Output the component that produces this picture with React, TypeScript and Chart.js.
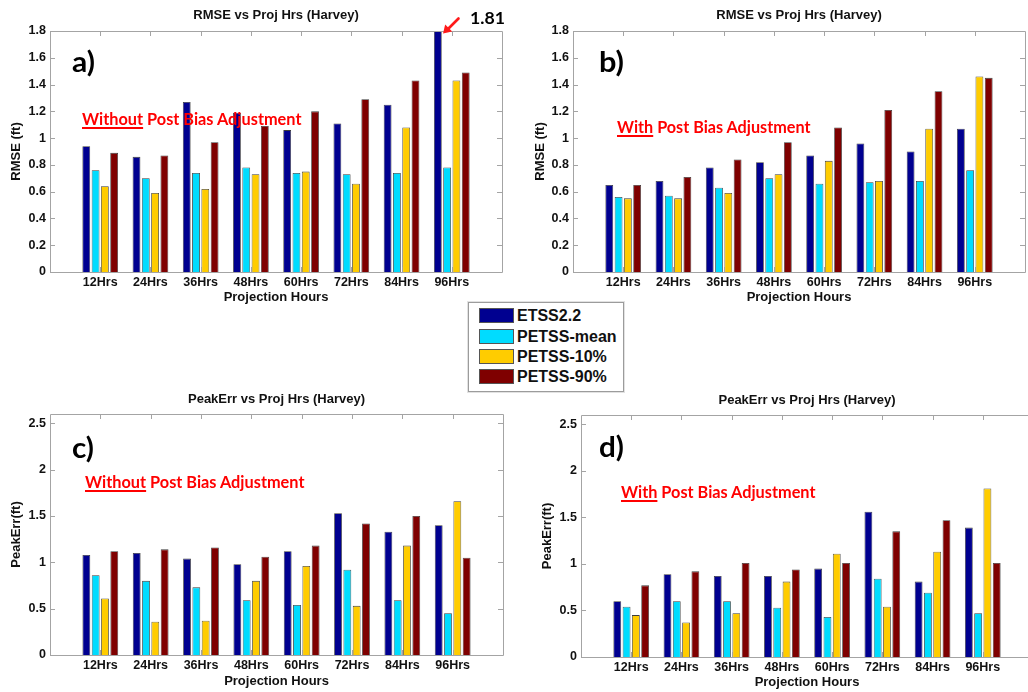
import React, { useEffect, useRef } from 'react';
import { Chart, registerables } from 'chart.js';

Chart.register(...registerables);

// ---------- data ----------
const HOURS = ['12Hrs', '24Hrs', '36Hrs', '48Hrs', '60Hrs', '72Hrs', '84Hrs', '96Hrs'];
const SERIES = ['ETSS2.2', 'PETSS-mean', 'PETSS-10%', 'PETSS-90%'];
const COLORS = ['#000090', '#00dcff', '#ffcc00', '#7f0000'];

// a) RMSE, without post bias adjustment
const rmseNoAdjEtss = [0.94, 0.86, 1.27, 1.19, 1.06, 1.11, 1.25, 1.81];
const rmseNoAdjMean = [0.76, 0.7, 0.74, 0.78, 0.74, 0.73, 0.74, 0.78];
const rmseNoAdjP10 = [0.64, 0.59, 0.62, 0.73, 0.75, 0.66, 1.08, 1.43];
const rmseNoAdjP90 = [0.89, 0.87, 0.97, 1.09, 1.2, 1.29, 1.43, 1.49];

// b) RMSE, with post bias adjustment
const rmseAdjEtss = [0.65, 0.68, 0.78, 0.82, 0.87, 0.96, 0.9, 1.07];
const rmseAdjMean = [0.56, 0.57, 0.63, 0.7, 0.66, 0.67, 0.68, 0.76];
const rmseAdjP10 = [0.55, 0.55, 0.59, 0.73, 0.83, 0.68, 1.07, 1.46];
const rmseAdjP90 = [0.65, 0.71, 0.84, 0.97, 1.08, 1.21, 1.35, 1.45];

// c) PeakErr, without post bias adjustment
const peakNoAdjEtss = [1.08, 1.1, 1.04, 0.98, 1.12, 1.53, 1.33, 1.4];
const peakNoAdjMean = [0.86, 0.8, 0.73, 0.59, 0.54, 0.92, 0.59, 0.45];
const peakNoAdjP10 = [0.61, 0.36, 0.37, 0.8, 0.96, 0.53, 1.18, 1.66];
const peakNoAdjP90 = [1.12, 1.14, 1.16, 1.06, 1.18, 1.42, 1.5, 1.05];

// d) PeakErr, with post bias adjustment
const peakAdjEtss = [0.6, 0.89, 0.87, 0.87, 0.95, 1.56, 0.81, 1.39];
const peakAdjMean = [0.54, 0.6, 0.6, 0.53, 0.43, 0.84, 0.69, 0.47];
const peakAdjP10 = [0.45, 0.37, 0.47, 0.81, 1.11, 0.54, 1.13, 1.81];
const peakAdjP90 = [0.77, 0.92, 1.01, 0.94, 1.01, 1.35, 1.47, 1.01];

const RMSE_MAX = 1.8;
const RMSE_STEP = 0.2;
const PEAK_MAX = 2.6;
const PEAK_STEP = 0.5;

const RMSE_TITLE = 'RMSE vs Proj Hrs (Harvey)';
const PEAK_TITLE = 'PeakErr vs Proj Hrs (Harvey)';
const X_TITLE = 'Projection Hours';

// ---------- layout ----------
const AX_FONT = "'Liberation Sans', Arial, sans-serif";
const NOTE_FONT = "Lato, 'Open Sans', sans-serif";

type PanelCfg = {
  left: number; top: number; width: number; height: number;
  area: { l: number; t: number; r: number; b: number };
  title: string; titleCY: number;
  yTitle: string; yTitleCX: number; yMax: number; yStep: number;
  xTitleCY: number;
  series: number[][];
};

const PANELS: PanelCfg[] = [
  {
    left: 0, top: 0, width: 514, height: 310,
    area: { l: 50, t: 31, r: 502, b: 272 },
    title: RMSE_TITLE, titleCY: 15.7,
    yTitle: 'RMSE (ft)', yTitleCX: 16, yMax: RMSE_MAX, yStep: RMSE_STEP,
    xTitleCY: 297.7,
    series: [rmseNoAdjEtss, rmseNoAdjMean, rmseNoAdjP10, rmseNoAdjP90],
  },
  {
    left: 514, top: 0, width: 514, height: 310,
    area: { l: 59, t: 31, r: 511, b: 272 },
    title: RMSE_TITLE, titleCY: 15.7,
    yTitle: 'RMSE (ft)', yTitleCX: 26.7, yMax: RMSE_MAX, yStep: RMSE_STEP,
    xTitleCY: 297.7,
    series: [rmseAdjEtss, rmseAdjMean, rmseAdjP10, rmseAdjP90],
  },
  {
    left: 0, top: 380, width: 514, height: 312,
    area: { l: 50, t: 34, r: 503, b: 275 },
    title: PEAK_TITLE, titleCY: 19,
    yTitle: 'PeakErr(ft)', yTitleCX: 16, yMax: PEAK_MAX, yStep: PEAK_STEP,
    xTitleCY: 301,
    series: [peakNoAdjEtss, peakNoAdjMean, peakNoAdjP10, peakNoAdjP90],
  },
  {
    left: 514, top: 380, width: 530, height: 312,
    area: { l: 67, t: 35, r: 519, b: 277 },
    title: PEAK_TITLE, titleCY: 20,
    yTitle: 'PeakErr(ft)', yTitleCX: 33.3, yMax: PEAK_MAX, yStep: PEAK_STEP,
    xTitleCY: 302.7,
    series: [peakAdjEtss, peakAdjMean, peakAdjP10, peakAdjP90],
  },
];

const framePlugin = {
  id: 'matlabFrame',
  afterDatasetsDraw(chart: any) {
    const { ctx, chartArea } = chart;
    const { left, right, top, bottom } = chartArea;
    const x = chart.scales.x;
    const y = chart.scales.y;
    const tl = 5;
    ctx.save();
    ctx.strokeStyle = '#a4a4a4';
    ctx.lineWidth = 1;
    ctx.beginPath();
    ctx.rect(Math.round(left) + 0.5, Math.round(top) + 0.5, Math.round(right - left), Math.round(bottom - top));
    const labels = chart.data.labels as string[];
    x.ticks.forEach((_t: any, i: number) => {
      if (!labels[i]) return;
      const px = Math.round(x.getPixelForTick(i)) + 0.5;
      ctx.moveTo(px, bottom);
      ctx.lineTo(px, bottom - tl);
      ctx.moveTo(px, top);
      ctx.lineTo(px, top + tl);
    });
    y.ticks.forEach((_t: any, i: number) => {
      const py = Math.round(y.getPixelForTick(i)) + 0.5;
      ctx.moveTo(left, py);
      ctx.lineTo(left + tl, py);
      ctx.moveTo(right, py);
      ctx.lineTo(right - tl, py);
    });
    ctx.stroke();
    ctx.restore();
  },
};

function BarPanel({ cfg }: { cfg: PanelCfg }) {
  const ref = useRef<HTMLCanvasElement>(null);
  useEffect(() => {
    const c = cfg;
    const titleLH = 13 * 1.2;
    const titlePadTop = c.titleCY - titleLH / 2;
    const titlePadBottom = c.area.t - titlePadTop - titleLH;
    const labels = ['', ...HOURS, ''];
    const chart = new Chart(ref.current as HTMLCanvasElement, {
      type: 'bar',
      data: {
        labels,
        datasets: SERIES.map((name, i) => ({
          label: name,
          data: [null, ...c.series[i], null],
          backgroundColor: COLORS[i],
          borderColor: '#3c3c3c',
          borderWidth: 0.8,
          categoryPercentage: 0.74,
          barPercentage: 0.84,
        })),
      },
      options: {
        responsive: false,
        animation: false,
        devicePixelRatio: 1,
        layout: { padding: { left: 0, right: c.width - c.area.r, top: 0, bottom: 0 } },
        plugins: {
          legend: { display: false },
          tooltip: { enabled: false },
          title: {
            display: true,
            text: c.title,
            fullSize: false,
            color: '#111',
            font: { family: AX_FONT, size: 13, weight: 'bold', lineHeight: 1.2 },
            padding: { top: titlePadTop, bottom: titlePadBottom },
          },
        },
        scales: {
          x: {
            type: 'category',
            offset: false,
            grid: { display: false, drawTicks: false },
            border: { display: false },
            ticks: {
              autoSkip: false,
              maxRotation: 0,
              minRotation: 0,
              padding: 3,
              color: '#111',
              font: { family: AX_FONT, size: 12.5, weight: 'bold', lineHeight: 1.2 },
            },
            title: {
              display: true,
              text: X_TITLE,
              color: '#111',
              font: { family: AX_FONT, size: 13, weight: 'bold', lineHeight: 1.2 },
              padding: { top: 0, bottom: c.height - c.xTitleCY - 7.8 },
            },
            afterFit: (s: any) => { s.height = c.height - c.area.b; },
          },
          y: {
            min: 0,
            max: c.yMax,
            grid: { display: false, drawTicks: false },
            border: { display: false },
            ticks: {
              stepSize: c.yStep,
              includeBounds: false,
              padding: 4,
              color: '#111',
              font: { family: AX_FONT, size: 12.5, weight: 'bold', lineHeight: 1.2 },
              callback: (v: any) => String(Math.round(Number(v) * 10) / 10),
            },
            title: {
              display: true,
              text: c.yTitle,
              color: '#111',
              font: { family: AX_FONT, size: 13, weight: 'bold', lineHeight: 1.2 },
              padding: { top: c.yTitleCX - 7.8, bottom: 0 },
            },
            afterFit: (s: any) => { s.width = c.area.l; },
          },
        },
      } as any,
      plugins: [framePlugin],
    });
    return () => chart.destroy();
  }, [cfg]);
  return (
    <canvas
      ref={ref}
      width={cfg.width}
      height={cfg.height}
      style={{ position: 'absolute', left: cfg.left, top: cfg.top, width: cfg.width, height: cfg.height, display: 'block' }}
    />
  );
}

// ---------- text annotations (fit to measured width) ----------
let measureCtx: CanvasRenderingContext2D | null = null;
function measureWidth(text: string, font: string) {
  if (!measureCtx) measureCtx = document.createElement('canvas').getContext('2d');
  if (!measureCtx) return 1;
  measureCtx.font = font;
  return measureCtx.measureText(text).width || 1;
}

function FitText({ left, baseline, width, size, color, weight = 700, children, text }:
  { left: number; baseline: number; width: number; size: number; color: string; weight?: number; children: React.ReactNode; text: string }) {
  const w = measureWidth(text, `${weight} ${size}px ${NOTE_FONT}`);
  const sx = width / w;
  return (
    <div
      style={{
        position: 'absolute',
        left,
        top: baseline - 0.887 * size,
        fontFamily: NOTE_FONT,
        fontWeight: weight,
        fontSize: size,
        lineHeight: 1,
        color,
        whiteSpace: 'nowrap',
        transform: `scaleX(${sx})`,
        transformOrigin: 'left top',
      }}
    >
      {children}
    </div>
  );
}

function BiasNote({ left, baseline, width, lead }: { left: number; baseline: number; width: number; lead: string }) {
  const rest = ' Post Bias Adjustment';
  return (
    <FitText left={left} baseline={baseline} width={width} size={17} color="#ff0000" text={lead + rest}>
      <span style={{ textDecoration: 'underline', textDecorationThickness: 1.5, textUnderlineOffset: 2 }}>{lead}</span>
      {rest}
    </FitText>
  );
}

function Legend() {
  const rowTop = [308.3, 328.5, 348.7, 369];
  return (
    <div
      style={{
        position: 'absolute', left: 468, top: 302, width: 154, height: 88,
        border: '1px solid #9c9c9c', outline: '1px solid #e2e2e2', background: '#fff',
      }}
    >
      {SERIES.map((name, i) => (
        <div key={name} style={{ position: 'absolute', left: 0, top: rowTop[i] - 303, height: 15, width: 154 }}>
          <div style={{
            position: 'absolute', left: 10, top: 0, width: 33, height: 13,
            background: COLORS[i], border: '1px solid #555',
          }} />
          <div style={{
            position: 'absolute', left: 48, top: -2, height: 19, lineHeight: '19px',
            fontFamily: AX_FONT, fontWeight: 'bold', fontSize: 16, color: '#111', whiteSpace: 'nowrap',
          }}>{name}</div>
        </div>
      ))}
    </div>
  );
}

export default function App() {
  useEffect(() => {
    document.body.style.margin = '0';
  }, []);
  return (
    <div style={{ position: 'absolute', left: 0, top: 0, width: 1028, height: 692, overflow: 'hidden', background: '#fff' }}>
      {PANELS.map((p, i) => <BarPanel key={i} cfg={p} />)}

      <FitText left={72} baseline={71.7} width={23} size={29} color="#000" text="a)">a)</FitText>
      <FitText left={599} baseline={71.7} width={25} size={29} color="#000" text="b)">b)</FitText>
      <FitText left={72} baseline={457.3} width={22} size={29} color="#000" text="c)">c)</FitText>
      <FitText left={599} baseline={456.5} width={25} size={29} color="#000" text="d)">d)</FitText>

      <BiasNote left={81.7} baseline={125.3} width={220} lead="Without" />
      <BiasNote left={617.3} baseline={133.3} width={194} lead="With" />
      <BiasNote left={85} baseline={488.3} width={220} lead="Without" />
      <BiasNote left={621.3} baseline={498.3} width={195} lead="With" />

      <FitText left={470} baseline={24} width={35} size={17} color="#000" text="1.81">1.81</FitText>
      <svg width={40} height={40} style={{ position: 'absolute', left: 436, top: 10 }}>
        <line x1={22.5} y1={8.5} x2={11} y2={20} stroke="#ff1a1a" strokeWidth={2.6} strokeLinecap="round" />
        <polygon points="7,23.5 9.2,14.6 16.2,21.6" fill="#ff1a1a" />
      </svg>

      <Legend />
    </div>
  );
}
